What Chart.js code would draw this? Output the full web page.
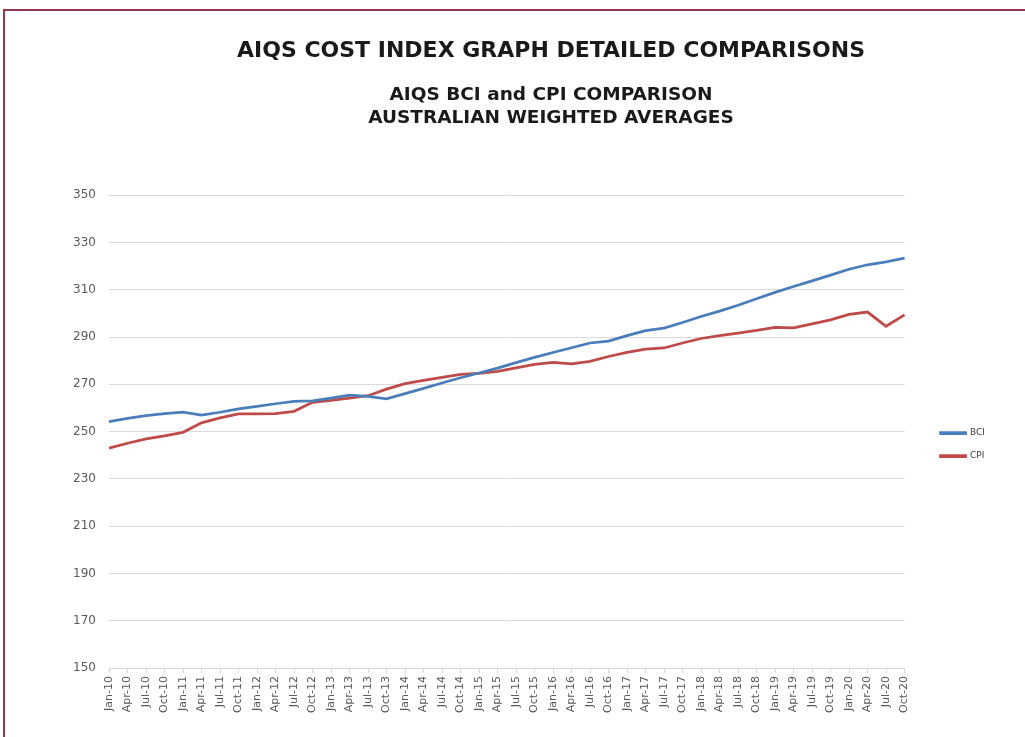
<!DOCTYPE html>
<html>
<head>
<meta charset="utf-8">
<title>AIQS cost index</title>
<script src="https://cdn.jsdelivr.net/npm/chart.js@4.4.1/dist/chart.umd.min.js"></script>
<style>
html, body { margin: 0; padding: 0; background: #fff; overflow: hidden; width: 1025px; height: 737px; }
#frame { position: absolute; left: 3px; top: 9px; width: 1100px; height: 800px; border: 2px solid #8e3a4c; }
#wrap { position: absolute; left: 72px; top: 0; width: 958px; height: 737px; }
</style>
</head>
<body>
<div id="frame"></div>
<div id="wrap"><canvas id="costChart" width="958" height="737"></canvas></div>
<script>
var quarters = [
    'Jan-10','Apr-10','Jul-10','Oct-10','Jan-11','Apr-11','Jul-11','Oct-11',
    'Jan-12','Apr-12','Jul-12','Oct-12','Jan-13','Apr-13','Jul-13','Oct-13',
    'Jan-14','Apr-14','Jul-14','Oct-14','Jan-15','Apr-15','Jul-15','Oct-15',
    'Jan-16','Apr-16','Jul-16','Oct-16','Jan-17','Apr-17','Jul-17','Oct-17',
    'Jan-18','Apr-18','Jul-18','Oct-18','Jan-19','Apr-19','Jul-19','Oct-19',
    'Jan-20','Apr-20','Jul-20','Oct-20'
];
var bciValues = [
    254.2, 255.6, 256.8, 257.6, 258.3, 257.0, 258.2, 259.6,
    260.7, 261.8, 262.8, 263.0, 264.2, 265.4, 264.9, 263.9,
    266.1, 268.3, 270.6, 272.8, 274.8, 276.9, 279.2, 281.4,
    283.5, 285.5, 287.5, 288.3, 290.6, 292.7, 293.8, 296.2,
    298.7, 301.0, 303.5, 306.2, 308.9, 311.4, 313.8, 316.2,
    318.7, 320.6, 321.8, 323.4
];
var cpiValues = [
    243.0, 245.1, 246.9, 248.2, 249.7, 253.7, 255.8, 257.5,
    257.5, 257.6, 258.6, 262.4, 263.2, 264.2, 265.2, 268.0,
    270.3, 271.7, 273.0, 274.2, 274.6, 275.5, 277.0, 278.5,
    279.3, 278.7, 279.7, 281.8, 283.5, 284.9, 285.4, 287.5,
    289.4, 290.6, 291.7, 292.8, 294.1, 293.9, 295.6, 297.3,
    299.6, 300.6, 294.6, 299.4
];
var chartTitle = 'AIQS COST INDEX GRAPH DETAILED COMPARISONS';
var chartSubtitle = ['AIQS BCI and CPI COMPARISON', 'AUSTRALIAN WEIGHTED AVERAGES'];

var fontFamily = 'DejaVu Sans';

function makeLine(label, values, colour){
    return {
        label: label,
        data: values,
        borderColor: colour,
        backgroundColor: colour,
        borderWidth: 2.75,
        pointRadius: 0,
        tension: 0,
        fill: false
    };
}

// empty axes on the right only used to space the legend like the original
function spacer(weight, width){
    return {
        type: 'linear',
        position: 'right',
        weight: weight,
        grid: { display: false },
        border: { display: false },
        ticks: { display: false },
        afterFit: function(s){ s.width = width; }
    };
}

var ctx = document.getElementById('costChart').getContext('2d');
new Chart(ctx, {
    type: 'line',
    data: {
        labels: quarters,
        datasets: [
            makeLine('BCI', bciValues, '#4a7ebb'),
            makeLine('CPI', cpiValues, '#be4b48')
        ]
    },
    options: {
        responsive: false,
        animation: false,
        devicePixelRatio: 1,
        layout: { padding: 0 },
        plugins: {
            title: {
                display: true,
                text: chartTitle,
                color: '#1a1a1a',
                font: { family: fontFamily, size: 22, weight: 'bold', lineHeight: 1.2 },
                padding: { top: 38, bottom: 10 }
            },
            subtitle: {
                display: true,
                text: chartSubtitle,
                color: '#1a1a1a',
                font: { family: fontFamily, size: 18.5, weight: 'bold', lineHeight: 1.24 },
                padding: { top: 9, bottom: 66 }
            },
            legend: {
                position: 'right',
                fullSize: false,
                align: 'center',
                title: { display: true, text: '', font: { size: 26, lineHeight: 1 }, padding: 0 },
                labels: {
                    boxWidth: 25,
                    boxHeight: 1,
                    padding: 14,
                    color: '#404040',
                    font: { family: fontFamily, size: 9 }
                }
            },
            tooltip: { enabled: false }
        },
        scales: {
            x: {
                grid: { display: true, drawOnChartArea: false, drawTicks: true, tickLength: 5, color: '#d9d9d9' },
                border: { display: true, color: '#d9d9d9' },
                ticks: {
                    autoSkip: false,
                    minRotation: 90,
                    maxRotation: 90,
                    padding: 3,
                    color: '#595959',
                    font: { family: fontFamily, size: 11 }
                },
                afterFit: function(s){ s.height = 69; }
            },
            y: {
                min: 150,
                max: 350,
                ticks: { stepSize: 20, padding: 13, color: '#595959', font: { family: fontFamily, size: 12 } },
                grid: { color: '#d9d9d9', drawTicks: false },
                border: { display: false },
                afterFit: function(s){ s.width = 37; }
            },
            gapRight: spacer(0, 22),
            edgeRight: spacer(2000, 35)
        }
    }
});
</script>
</body>
</html>
